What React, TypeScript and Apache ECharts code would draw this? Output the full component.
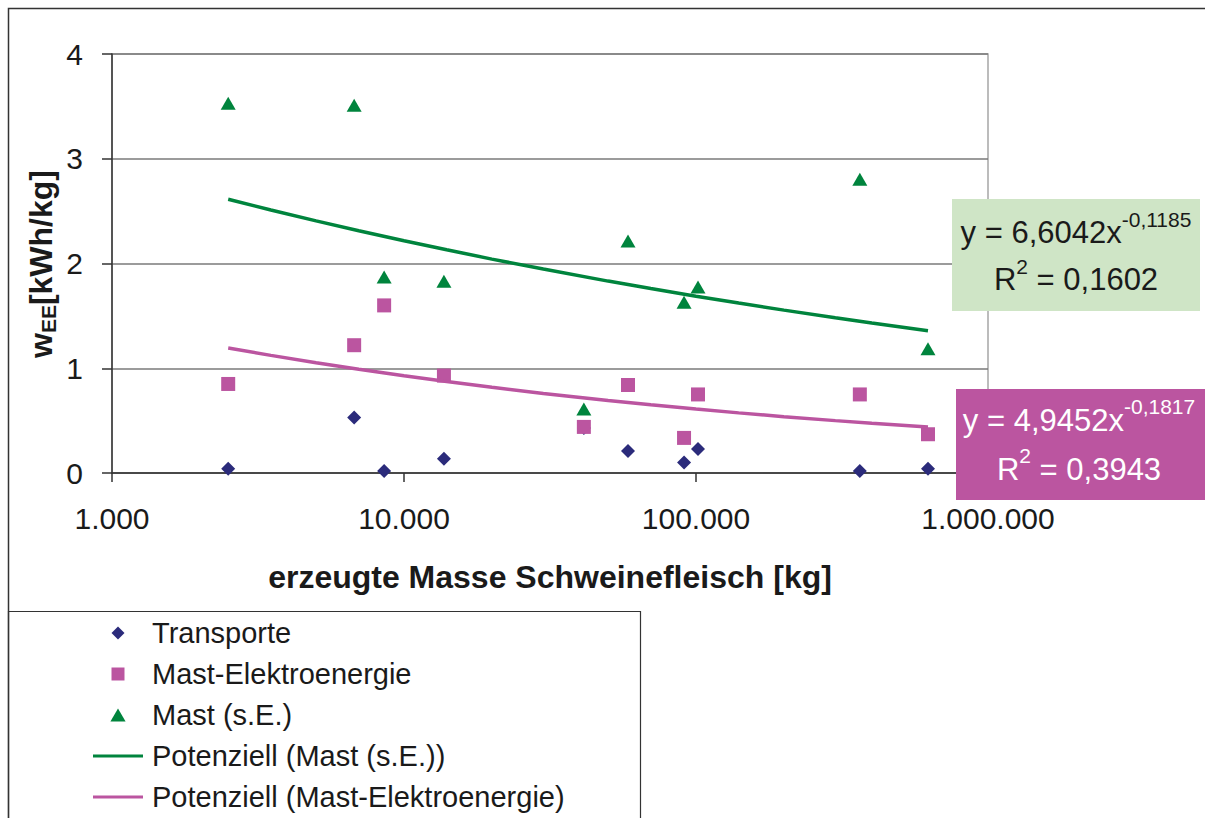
import React, { useEffect, useRef } from 'react';
import * as echarts from 'echarts';

const FONT = "'Liberation Sans', Arial, Helvetica, sans-serif";

// x values: erzeugte Masse Schweinefleisch [kg]
const massKg = [2500, 6750, 8550, 13700, 41300, 58500, 91000, 101600, 364000, 623000];
// y values: w_EE [kWh/kg]
const transporte = [0.04, 0.53, 0.02, 0.135, 0.43, 0.21, 0.1, 0.23, 0.02, 0.04];
const mastElektro = [0.85, 1.22, 1.6, 0.93, 0.44, 0.84, 0.335, 0.75, 0.75, 0.37];
const mastSE = [3.53, 3.51, 1.87, 1.83, 0.61, 2.215, 1.63, 1.775, 2.805, 1.185];

// trend lines (power fits as drawn in the chart)
const trendX = [2500, 3500, 5000, 7000, 10000, 14000, 20000, 30000, 50000, 70000, 100000, 140000, 200000, 300000, 400000, 623000];
const trendMastSE = [2.613, 2.511, 2.407, 2.313, 2.217, 2.131, 2.042, 1.947, 1.832, 1.761, 1.688, 1.622, 1.555, 1.482, 1.432, 1.359];
const trendMastElektro = [1.193, 1.123, 1.052, 0.99, 0.928, 0.873, 0.818, 0.76, 0.693, 0.651, 0.611, 0.574, 0.538, 0.5, 0.475, 0.438];

const xTickValues = [1000, 10000, 100000, 1000000];
const yTickValues = [0, 1, 2, 3, 4];

const legendNames = [
  'Transporte',
  'Mast-Elektroenergie',
  'Mast (s.E.)',
  'Potenziell (Mast (s.E.))',
  'Potenziell (Mast-Elektroenergie)',
];

const C_NAVY = '#2b2b7b';
const C_MAGENTA = '#bb55a0';
const C_GREEN = '#00843d';

const LINE_ICON = 'path://M0,0H50V3H0Z';
const DIAMOND_ICON = 'path://M7,0L14,7L7,14L0,7Z';
const SQUARE_ICON = 'path://M0,0H13V13H0Z';
const TRIANGLE_ICON = 'path://M7,0L14,12H0Z';

export default function App() {
  const ref = useRef<HTMLDivElement>(null);
  useEffect(() => {
    document.body.style.margin = '0';
    const chart = echarts.init(ref.current as HTMLDivElement, null, { renderer: 'svg' });
    const fmt = (v: number) => Math.round(v).toString().replace(/\B(?=(\d{3})+(?!\d))/g, '.');
    const pts = (ys: number[], xs: number[] = massKg) => xs.map((x, i) => [x, ys[i]]);
    const textColor = '#1a1a1a';

    chart.setOption({
      animation: false,
      backgroundColor: '#ffffff',
      textStyle: { fontFamily: FONT },
      grid: {
        left: 112,
        top: 54,
        width: 876,
        height: 419,
        show: true,
        borderColor: '#a6a6a6',
        borderWidth: 1.5,
        backgroundColor: 'transparent',
      },
      xAxis: {
        type: 'log',
        logBase: 10,
        min: xTickValues[0],
        max: xTickValues[xTickValues.length - 1],
        name: 'erzeugte Masse Schweinefleisch [kg]',
        nameLocation: 'middle',
        nameGap: 88,
        nameTextStyle: { fontSize: 32, fontWeight: 'bold', color: textColor, fontFamily: FONT },
        axisLine: { show: true, onZero: false, lineStyle: { color: '#333', width: 1.5 } },
        axisTick: { show: true, length: 9, inside: false, lineStyle: { color: '#333', width: 1.5 } },
        axisLabel: { fontSize: 30, color: textColor, margin: 30, formatter: fmt, fontFamily: FONT },
        splitLine: { show: false },
        minorTick: { show: false },
      },
      yAxis: {
        type: 'value',
        min: yTickValues[0],
        max: yTickValues[yTickValues.length - 1],
        interval: 1,
        axisLine: { show: true, lineStyle: { color: '#333', width: 1.5 } },
        axisTick: { show: true, length: 10, inside: false, lineStyle: { color: '#333', width: 1.5 } },
        axisLabel: { fontSize: 30, color: textColor, margin: 29, fontFamily: FONT },
        splitLine: { show: true, lineStyle: { color: '#7a7a7a', width: 1.5 } },
      },
      legend: {
        orient: 'vertical',
        left: 93,
        top: 618,
        padding: 0,
        itemGap: 11,
        itemWidth: 50,
        itemHeight: 13,
        symbolKeepAspect: true,
        selectedMode: false,
        textStyle: { fontSize: 29, color: textColor, lineHeight: 30, padding: [0, 0, 0, 4], fontFamily: FONT },
        data: [
          { name: legendNames[0], icon: DIAMOND_ICON },
          { name: legendNames[1], icon: SQUARE_ICON },
          { name: legendNames[2], icon: TRIANGLE_ICON },
          { name: legendNames[3], icon: LINE_ICON },
          { name: legendNames[4], icon: LINE_ICON },
        ],
      },
      series: [
        {
          name: legendNames[0],
          type: 'scatter',
          symbol: 'diamond',
          symbolSize: 14,
          itemStyle: { color: C_NAVY, opacity: 1 },
          data: pts(transporte),
        },
        {
          name: legendNames[1],
          type: 'scatter',
          symbol: 'rect',
          symbolSize: 14,
          itemStyle: { color: C_MAGENTA, opacity: 1 },
          data: pts(mastElektro),
        },
        {
          name: legendNames[2],
          type: 'scatter',
          symbol: 'triangle',
          symbolSize: [15, 13],
          itemStyle: { color: C_GREEN, opacity: 1 },
          data: pts(mastSE),
        },
        {
          name: legendNames[3],
          type: 'line',
          symbol: 'none',
          showSymbol: false,
          lineStyle: { color: C_GREEN, width: 3.5 },
          itemStyle: { color: C_GREEN },
          data: pts(trendMastSE, trendX),
        },
        {
          name: legendNames[4],
          type: 'line',
          symbol: 'none',
          showSymbol: false,
          lineStyle: { color: C_MAGENTA, width: 3.5 },
          itemStyle: { color: C_MAGENTA },
          data: pts(trendMastElektro, trendX),
        },
      ],
      graphic: [
        {
          type: 'polyline',
          z: 100,
          shape: { points: [[8.5, 818], [8.5, 8.5], [1205, 8.5]] },
          style: { stroke: '#333', lineWidth: 1.5, fill: 'none' },
        },
        {
          type: 'rect',
          z: 100,
          shape: { x: 8.5, y: 611.5, width: 632, height: 230 },
          style: { stroke: '#333', lineWidth: 1.2, fill: 'none' },
        },
        {
          type: 'text',
          z: 100,
          x: 41,
          y: 264,
          rotation: Math.PI / 2,
          style: {
            text: '{w|w}{e|EE}{b|[kWh/kg]}',
            align: 'center',
            verticalAlign: 'middle',
            fill: textColor,
            rich: {
              w: { fontSize: 32, fontWeight: 'bold', fontFamily: FONT, lineHeight: 36, fill: textColor },
              e: { fontSize: 21, fontWeight: 'bold', fontFamily: FONT, lineHeight: 27, verticalAlign: 'bottom', fill: textColor },
              b: { fontSize: 32, fontWeight: 'bold', fontFamily: FONT, lineHeight: 36, fill: textColor },
            },
          },
        },
        {
          type: 'rect',
          z: 100,
          shape: { x: 952, y: 199, width: 248, height: 112 },
          style: { fill: '#cfe5c6' },
        },
        {
          type: 'text',
          z: 101,
          x: 1076,
          y: 256,
          style: {
            text: '{a|y = 6,6042x}{s|-0,1185}\n{a|R}{s|2}{a| = 0,1602}',
            align: 'center',
            verticalAlign: 'middle',
            fill: textColor,
            rich: {
              a: { fontSize: 31, fontFamily: FONT, lineHeight: 47, fill: textColor },
              s: { fontSize: 21, fontFamily: FONT, lineHeight: 21, verticalAlign: 'top', fill: textColor },
            },
          },
        },
        {
          type: 'rect',
          z: 100,
          shape: { x: 956, y: 389, width: 249, height: 111 },
          style: { fill: C_MAGENTA },
        },
        {
          type: 'text',
          z: 101,
          x: 1079,
          y: 445,
          style: {
            text: '{a|y = 4,9452x}{s|-0,1817}\n{a|R}{s|2}{a| = 0,3943}',
            align: 'center',
            verticalAlign: 'middle',
            fill: '#ffffff',
            rich: {
              a: { fontSize: 31, fontFamily: FONT, lineHeight: 49, fill: '#ffffff' },
              s: { fontSize: 21, fontFamily: FONT, lineHeight: 21, verticalAlign: 'top', fill: '#ffffff' },
            },
          },
        },
      ],
    });
    return () => chart.dispose();
  }, []);
  return <div ref={ref} style={{ width: 1205, height: 818 }} />;
}
